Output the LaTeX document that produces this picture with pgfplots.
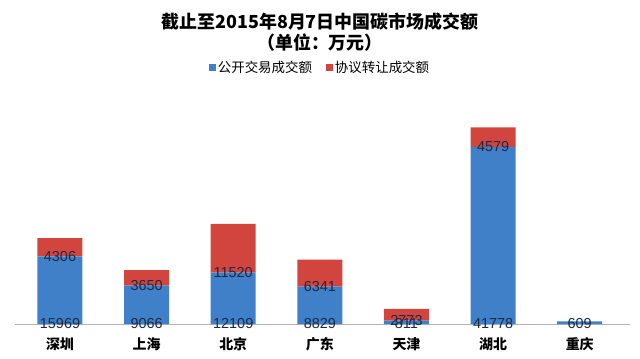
\documentclass[border=0pt]{standalone}
\usepackage{pgfplots}
\pgfplotsset{compat=1.18}
\usepackage{pgfplotstable}
\usepackage{fontspec}
\setmainfont{Liberation Sans}
\newfontfamily\cjk{Noto Sans CJK SC}
\definecolor{pubblue}{HTML}{3F80C8}
\definecolor{protred}{HTML}{D2453F}
\definecolor{navytxt}{HTML}{1B2A45}
\definecolor{redtxt}{HTML}{2A1A1A}
\pgfplotstableread{
x v
0 15969
1 9066
2 12109
3 8829
4 811
5 41778
6 609
}\pubdata
\pgfplotstableread{
x v
0 4306
1 3650
2 11520
3 6341
4 2773
5 4579
}\protdata
\begin{document}
\begin{tikzpicture}
\begin{axis}[
  anchor=origin,
  scale only axis, width=615bp, height=212bp,
  ybar stacked, bar width=45bp,
  xmin=-0.52, xmax=6.58, ymin=0, ymax=50000,
  axis x line=bottom, axis y line=none,
  axis line style={-, draw=gray!60, line width=0.8pt},
  xtick=data,
  xticklabels={深圳,上海,北京,广东,天津,湖北,重庆},
  major tick length=0pt,
  xticklabel style={font=\cjk\bfseries\fontsize{14}{14}\selectfont, yshift=-10bp},
  title={截止至2015年8月7日中国碳市场成交额\\（单位：万元）},
  title style={at={(0.496,1.347)}, anchor=center, align=center,
    font=\cjk\bfseries\fontsize{18}{21}\selectfont},
  legend style={at={(0.496,1.212)}, anchor=center, draw=none, fill=none,
    legend columns=2, font=\cjk\fontsize{13.5}{14}\selectfont,
    /tikz/every even column/.append style={column sep=12bp}},
  legend image code/.code={\fill[#1] (0bp,-3.5bp) rectangle (7bp,3.5bp);},
  /pgf/number format/1000 sep={},
  /pgf/number format/assume math mode=true,
  nodes near coords,
  point meta=explicit,
  visualization depends on={\thisrow{v}/1000 \as \hv},
  every node near coord/.append style={anchor=center,
    font=\fontsize{14.5}{15}\selectfont, text=navytxt, yshift={-2.12*\hv}},
]
\addplot[fill=pubblue, draw=none]
  table[x=x, y=v, meta=v] {\pubdata};
\addlegendentry{公开交易成交额}
\addplot[fill=protred, draw=none]
  table[x=x, y=v, meta=v] {\protdata};
\addlegendentry{协议转让成交额}
\end{axis}
\pgfresetboundingbox
\useasboundingbox (-60bp,-35bp) rectangle (580bp,324bp);
\end{tikzpicture}
\end{document}
